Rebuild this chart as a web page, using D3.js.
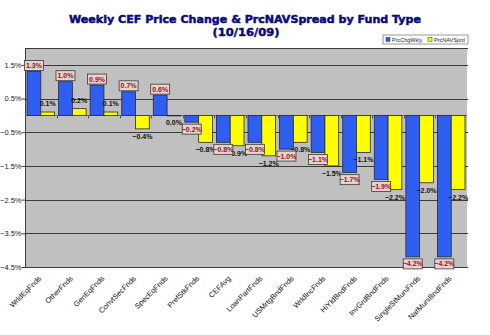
<!DOCTYPE html>
<html><head><meta charset="utf-8">
<script src="https://cdn.jsdelivr.net/npm/d3@7"></script>
<style>body{margin:0;background:#fff;}svg{display:block;}</style>
</head><body>
<svg id="c" width="490" height="335"></svg>
<script>
const categories = ["WrldEqFnds","OtherFnds","GenEqFnds","ConvtSecFnds","SpecEqFnds","PrefStkFnds","CEFAvg","LoanPartFnds","USMrtgBndFnds","WrldIncFnds","HiYldBndFnds","InvGrdBndFnds","SingleStMuniFnds","NatMuniBndFnds"];
const prcChgWkly = [1.3, 1.0, 0.9, 0.7, 0.6, -0.2, -0.8, -0.8, -1.0, -1.1, -1.7, -1.9, -4.2, -4.2];
const prcNAVSprd = [0.1, 0.2, 0.1, -0.4, 0.0, -0.8, -0.9, -1.2, -0.8, -1.5, -1.1, -2.2, -2.0, -2.2];
const seriesNames = ["PrcChgWkly","PrcNAVSprd"];
const yTicks = [1.5, 0.5, -0.5, -1.5, -2.5, -3.5, -4.5];
const titleLines = ["Weekly CEF Price Change & PrcNAVSpread by Fund Type","(10/16/09)"];

const svg = d3.select("#c");
const L = 25, R = 467, T = 48, B = 267;
const blue = "#2F5EF2", yellow = "#FFFF00";

const x0 = d3.scaleBand().domain(categories).range([L, R]).paddingInner(0);
const x1 = d3.scaleBand().domain(seriesNames).range([2, x0.bandwidth() - 2]);
const y = d3.scaleLinear().domain([2.0, -4.5]).range([T, B]);

svg.append("rect").attr("x", L).attr("y", T).attr("width", R - L).attr("height", B - T).attr("fill", "#C0C0C0");

svg.append("g").selectAll("line").data([2.0].concat(yTicks)).join("line")
  .attr("x1", L).attr("x2", R + 1)
  .attr("y1", d => Math.round(y(d)) + 0.5).attr("y2", d => Math.round(y(d)) + 0.5)
  .attr("stroke", "#3a3a3a").attr("stroke-width", 1);

const yAxis = d3.axisLeft(y).tickValues(yTicks).tickSize(4).tickFormat(d => d3.format(".1f")(d) + "%");
const ga = svg.append("g").attr("transform", `translate(${L + 0.5},0)`).call(yAxis);
ga.select(".domain").attr("stroke", "#404040").attr("d", `M0,${T}V${B}`);
ga.selectAll(".tick line").attr("stroke", "#404040");
ga.selectAll(".tick text").attr("font-family", "Liberation Sans, Arial, sans-serif").attr("font-size", 7.5).attr("fill", "#222").attr("x", -4);

svg.append("line").attr("x1", L).attr("x2", R).attr("y1", Math.round(y(0)) + 0.5).attr("y2", Math.round(y(0)) + 0.5).attr("stroke", "#707070");
svg.append("g").selectAll("line").data(categories.slice(1)).join("line")
  .attr("x1", d => Math.round(x0(d)) + 0.5).attr("x2", d => Math.round(x0(d)) + 0.5)
  .attr("y1", y(0)).attr("y2", y(0) + 3).attr("stroke", "#505050");

const data = categories.map((c, i) => ({c, v: [prcChgWkly[i], prcNAVSprd[i]]}));
const colors = [blue, yellow];

const g = svg.append("g");
data.forEach(d => {
  seriesNames.forEach((s, k) => {
    const v = d.v[k];
    const bx = x0(d.c) + x1(s);
    g.append("rect")
      .attr("x", bx).attr("width", x1.bandwidth())
      .attr("y", Math.min(y(v), y(0))).attr("height", Math.max(0.5, Math.abs(y(v) - y(0))))
      .attr("fill", colors[k]).attr("stroke", "#2a2a2a").attr("stroke-width", 0.8);
  });
});

const fmt = v => d3.format(".1f")(v) + "%";
const lf = "Liberation Sans, Arial, sans-serif";
data.forEach(d => {
  const v = d.v[1];
  const cx = x0(d.c) + x1("PrcNAVSprd") + x1.bandwidth() / 2;
  const yy = v > 0 ? y(v) - 6 : y(v) + 10;
  svg.append("text").attr("x", cx).attr("y", yy).attr("text-anchor", "middle")
    .attr("font-family", lf).attr("font-weight", "bold").attr("font-size", 7).attr("fill", "#111").text(fmt(v));
});
data.forEach(d => {
  const v = d.v[0];
  const cx = x0(d.c) + x1("PrcChgWkly") + x1.bandwidth() / 2;
  const bw = 19, bh = 10;
  const by = v > 0 ? y(v) - 1 - bh : y(v) + 2;
  svg.append("rect").attr("x", cx - bw / 2).attr("y", by).attr("width", bw).attr("height", bh)
    .attr("fill", "#E6D2D2").attr("stroke", "#3a3a3a").attr("stroke-width", 0.8);
  svg.append("text").attr("x", cx).attr("y", by + bh / 2 + 2.5).attr("text-anchor", "middle")
    .attr("font-family", lf).attr("font-weight", "bold").attr("font-size", 7).attr("fill", "#A01010").text(fmt(v));
});

svg.append("g").selectAll("text").data(categories).join("text")
  .attr("transform", d => `translate(${x0(d) + x0.bandwidth() / 2 + 1},${B + 12}) rotate(-45)`)
  .attr("text-anchor", "end").attr("font-family", lf).attr("font-size", 7.5).attr("fill", "#111").text(d => d);

svg.append("text").attr("x", 245).attr("y", 23).attr("text-anchor", "middle")
  .attr("font-family", "DejaVu Sans, sans-serif").attr("font-weight", "900").attr("font-size", 11)
  .attr("textLength", 352).attr("lengthAdjust", "spacingAndGlyphs")
  .attr("fill", "#0B0B7A").attr("stroke", "#0B0B7A").attr("stroke-width", 0.5).text(titleLines[0]);
svg.append("text").attr("x", 246).attr("y", 36).attr("text-anchor", "middle")
  .attr("font-family", "DejaVu Sans, sans-serif").attr("font-weight", "900").attr("font-size", 11)
  .attr("textLength", 67).attr("lengthAdjust", "spacingAndGlyphs")
  .attr("fill", "#0B0B7A").attr("stroke", "#0B0B7A").attr("stroke-width", 0.5).text(titleLines[1]);

const lg = svg.append("g").attr("transform", "translate(383,35)");
lg.append("rect").attr("width", 85).attr("height", 9).attr("fill", "#fff").attr("stroke", "#555").attr("stroke-width", 0.6);
const lx = [3, 45];
seriesNames.forEach((s, k) => {
  lg.append("rect").attr("x", lx[k]).attr("y", 2.5).attr("width", 4).attr("height", 4).attr("fill", colors[k]).attr("stroke", "#333").attr("stroke-width", 0.5);
  lg.append("text").attr("x", lx[k] + 6).attr("y", 6.6).attr("font-family", lf).attr("font-size", 5.5).attr("fill", "#222").text(s);
});
</script>
</body></html>
